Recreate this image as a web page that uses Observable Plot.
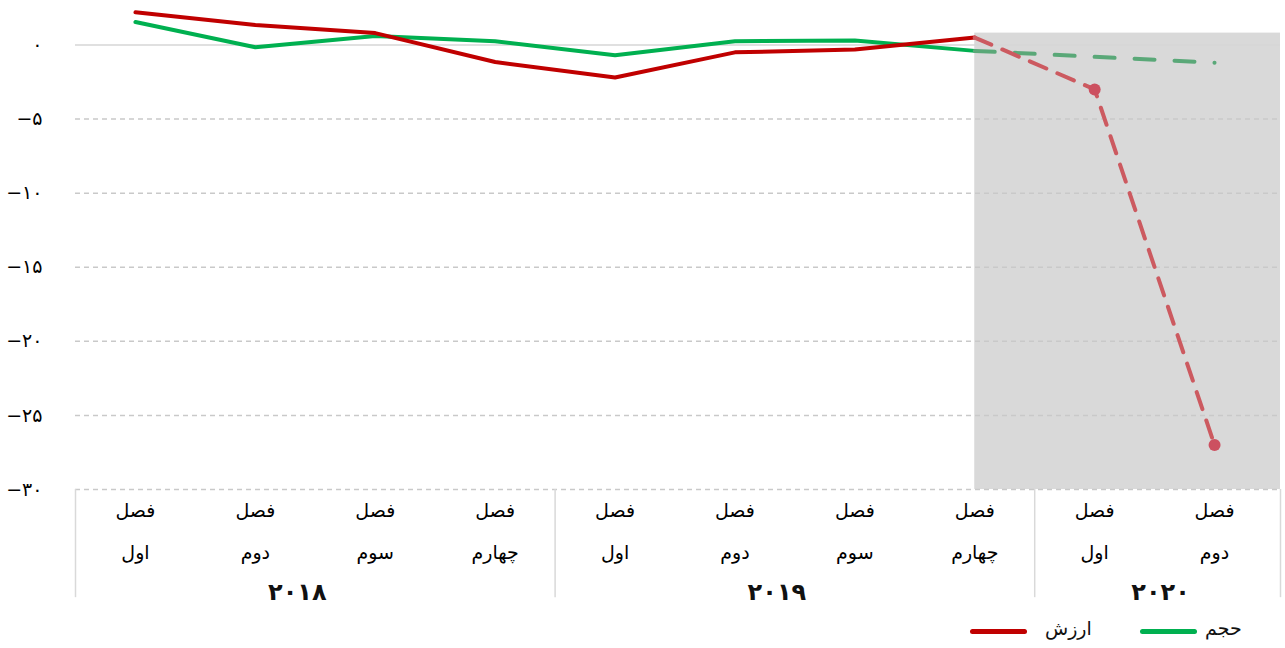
<!DOCTYPE html>
<html>
<head>
<meta charset="utf-8">
<script src="https://cdn.jsdelivr.net/npm/d3@7"></script>
<script src="https://cdn.jsdelivr.net/npm/@observablehq/plot@0.6"></script>
<style>
  body { margin: 0; background: #fff; font-family: "DejaVu Sans", sans-serif; }
  #wrap { width: 1285px; height: 648px; position: relative; overflow: hidden; }
  #legend { position: relative; height: 36px; width: 1285px; }
  .sw { position: absolute; height: 5px; border-radius: 3px; top: 17px; }
  .lt { position: absolute; top: 5px; font-size: 19px; color: #111; }
</style>
</head>
<body>
<div id="wrap">
  <div id="chart"></div>
  <div id="legend"></div>
</div>
<script>
// ---- data ----
const quarterLabels = [
  "فصل\nاول", "فصل\nدوم", "فصل\nسوم", "فصل\nچهارم",
  "فصل\nاول", "فصل\nدوم", "فصل\nسوم", "فصل\nچهارم",
  "فصل\nاول", "فصل\nدوم"
];
const valueSeries  = [2.2, 1.35, 0.8, -1.15, -2.2, -0.5, -0.3, 0.5, -3.0, -27.0];   // ارزش
const volumeSeries = [1.55, -0.15, 0.6, 0.25, -0.7, 0.25, 0.3, -0.4, -0.8, -1.2];   // حجم
const yearLabels = ["۲۰۱۸", "۲۰۱۹", "۲۰۲۰"];
const yearCenters = [1.35, 5.35, 8.55];
const groupBounds = [-0.5, 3.5, 7.5, 9.55];
const yTicks = [0, -5, -10, -15, -20, -25, -30];
const forecastStart = 7;   // start of shaded / dashed section
const shade = [{x1: 7, x2: 9.55, y1: -30, y2: 0.8}];
const legendItems = [
  {label: "ارزش", color: "#c00000"},
  {label: "حجم", color: "#00b050"}
];

// ---- helpers ----
const fa = s => String(s).replace(/\d/g, d => "۰۱۲۳۴۵۶۷۸۹"[d]);
const yFmt = v => v === 0 ? "۰" : (v < 0 ? "−" + fa(-v) : fa(v));

const idx = d3.range(quarterLabels.length);
const rows = s => idx.map(i => ({i, v: s[i]}));
const valRows = rows(valueSeries), volRows = rows(volumeSeries);
const solid = r => r.filter(d => d.i <= forecastStart);
const dashed = r => r.filter(d => d.i >= forecastStart);

const chart = Plot.plot({
  width: 1285,
  height: 612,
  marginLeft: 75,
  marginRight: 5,
  marginTop: 0,
  marginBottom: 123,
  style: {fontFamily: "DejaVu Sans, sans-serif", background: "transparent"},
  x: {type: "linear", domain: [-0.5, 9.55]},
  y: {type: "linear", domain: [-30, 3]},
  marks: [
    Plot.rect(shade, {x1: "x1", x2: "x2", y1: "y1", y2: "y2", fill: "#d9d9d9"}),
    Plot.ruleY(yTicks.filter(v => v !== 0), {stroke: "#c9c9c9", strokeWidth: 1.5, strokeDasharray: "5,4"}),
    Plot.ruleY([0], {stroke: "#d6d6d6", strokeWidth: 1.5}),
    Plot.ruleX(groupBounds, {y1: -30, y2: -37.3, stroke: "#d9d9d9", strokeWidth: 1.5, clip: false}),
    Plot.line(solid(volRows), {x: "i", y: "v", stroke: "#00b050", strokeWidth: 4}),
    Plot.line(solid(valRows), {x: "i", y: "v", stroke: "#c00000", strokeWidth: 4}),
    Plot.line(dashed(volRows), {x: "i", y: "v", stroke: "#5aa878", strokeWidth: 4, strokeDasharray: "20,20"}),
    Plot.line(dashed(valRows), {x: "i", y: "v", stroke: "#cc5a60", strokeWidth: 4, strokeDasharray: "18,12"}),
    Plot.dot(valRows.filter(d => d.i > forecastStart), {x: "i", y: "v", r: 6, fill: "#cc5060"}),
    Plot.axisY({ticks: yTicks, tickFormat: yFmt, tickSize: 0, tickPadding: 33, fontSize: 19, label: null}),
    Plot.axisX({ticks: idx, tickFormat: i => quarterLabels[i], tickSize: 0, tickPadding: -2, fontSize: 19, lineHeight: 2.2, label: null}),
    Plot.text(yearLabels, {x: (d, i) => yearCenters[i], y: () => -30, text: d => d, dy: 103, fontSize: 24, fontWeight: "bold", fill: "#111"})
  ]
});
document.getElementById("chart").append(chart);

// ---- legend ----
const lg = document.getElementById("legend");
const pos = [{sw: 970, tx: 1045}, {sw: 1140, tx: 1205}];
legendItems.forEach((it, k) => {
  const s = document.createElement("div");
  s.className = "sw"; s.style.left = pos[k].sw + "px"; s.style.width = "57px"; s.style.background = it.color;
  const t = document.createElement("div");
  t.className = "lt"; t.style.left = pos[k].tx + "px"; t.textContent = it.label;
  lg.append(s, t);
});
</script>
</body>
</html>
